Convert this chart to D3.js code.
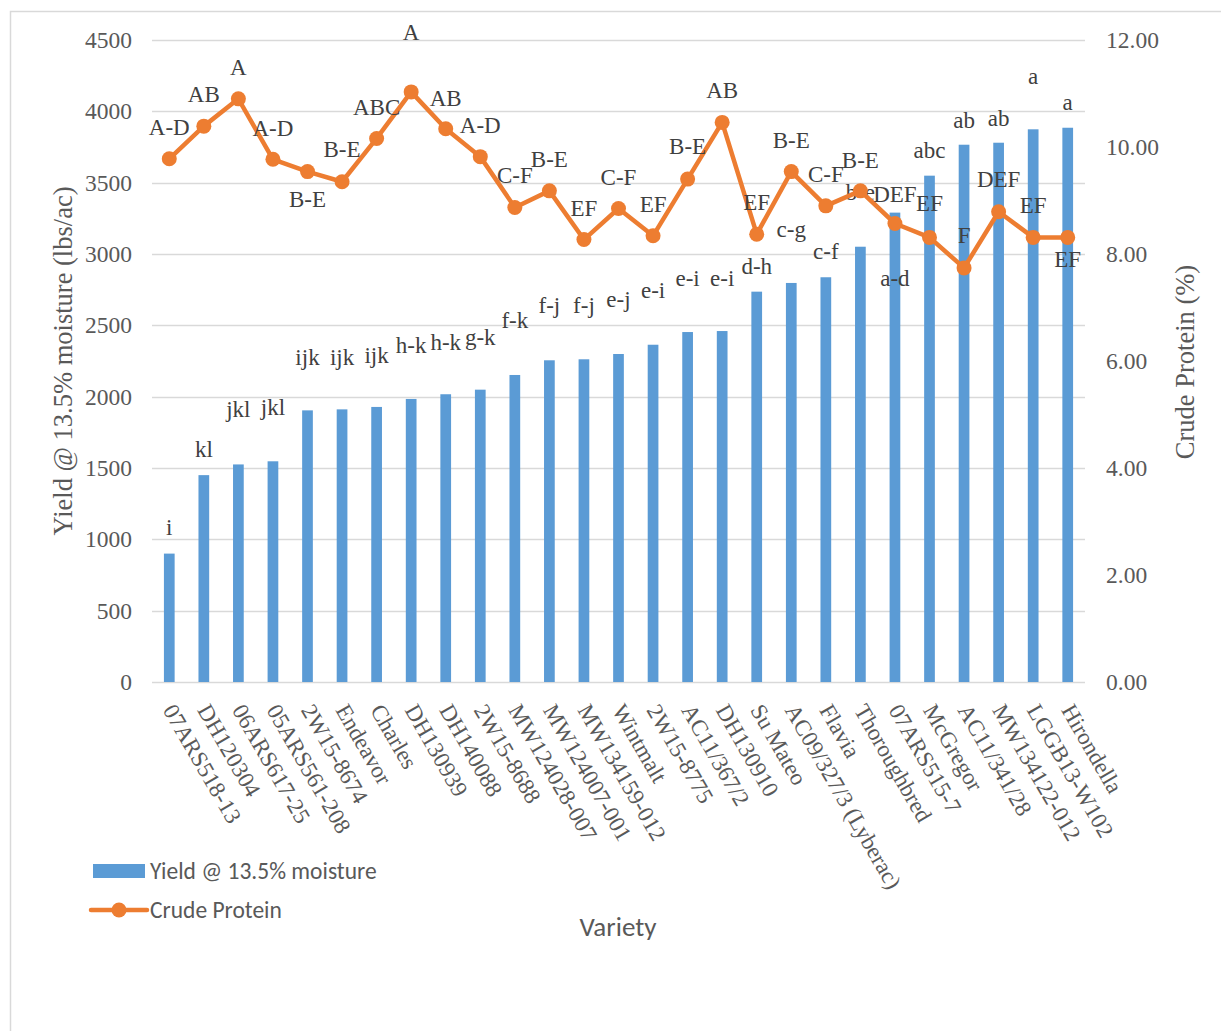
<!DOCTYPE html>
<html>
<head>
<meta charset="utf-8">
<script src="https://cdn.jsdelivr.net/npm/d3@7"></script>
<style>
  body { margin: 0; background: #fff; }
  svg { display: block; }
  .serif, .serif text { font-family: "Liberation Serif", "Times New Roman", serif; }
  .sans, .sans text { font-family: Carlito, Calibri, Lato, "Liberation Sans", sans-serif; }
</style>
</head>
<body>
<div id="chart"></div>
<script>
// varieties, sorted by yield
var categories = ["07ARS518-13", "DH120304", "06ARS617-25", "05ARS561-208", "2W15-8674", "Endeavor",
  "Charles", "DH130939", "DH140088", "2W15-8688", "MW124028-007", "MW124007-001", "MW134159-012",
  "Wintmalt", "2W15-8775", "AC11/367/2", "DH130910", "Su Mateo", "AC09/327/3 (Lyberac)", "Flavia",
  "Thoroughbred", "07ARS515-7", "McGregor", "AC11/341/28", "MW134122-012", "LGGB13-W102", "Hirondella"];

// Yield @ 13.5% moisture (lbs/ac)
var yieldValues = [900, 1450, 1525, 1547, 1904, 1911, 1928, 1984, 2017, 2049, 2152, 2255, 2262, 2299,
  2364, 2453, 2460, 2736, 2797, 2837, 3051, 3290, 3549, 3766, 3780, 3874, 3885];

// Crude protein (%)
var proteinValues = [9.78, 10.39, 10.90, 9.77, 9.54, 9.35, 10.16, 11.03, 10.34, 9.82, 8.87, 9.18, 8.27,
  8.85, 8.34, 9.40, 10.46, 8.37, 9.54, 8.90, 9.18, 8.57, 8.31, 7.74, 8.79, 8.31, 8.31];

// mean separation letters
var yieldLetters = ["i", "kl", "jkl", "jkl", "ijk", "ijk", "ijk", "h-k", "h-k", "g-k", "f-k", "f-j", "f-j",
  "e-j", "e-i", "e-i", "e-i", "d-h", "c-g", "c-f", "b-e", "a-d", "abc", "ab", "ab", "a", "a"];
var proteinLetters = ["A-D", "AB", "A", "A-D", "B-E", "B-E", "ABC", "A", "AB", "A-D", "C-F", "B-E", "EF",
  "C-F", "EF", "B-E", "AB", "EF", "B-E", "C-F", "B-E", "DEF", "EF", "F", "DEF", "EF", "EF"];

var yieldTicks = [0, 500, 1000, 1500, 2000, 2500, 3000, 3500, 4000, 4500];
var proteinTicks = [0, 2, 4, 6, 8, 10, 12];

// label placement (px), the way they were dragged around in the original
var yieldLabelLift = [19, 18, 47, 46, 45, 44, 44, 46, 44, 45, 47, 47, 46, 47, 47, 46, 45, 18, 46, 18, 47, -73, 18, 17, 17, 45, 18];
var proteinLabelDy = [-24, -24, -24, -23, 35, -25, -23, -52, -23, -24, -24, -24, -24, -24, -24, -25, -24, -24, -24, -24, -23, -22, -26, -25, -25, -24, 30];

var W = 1221, H = 1031,
    plotLeft = 152, plotRight = 1085, plotTop = 40, plotBottom = 682,
    barColor = "#5B9BD5", lineColor = "#ED7D31",
    gridColor = "#D9D9D9", tickColor = "#595959", labelColor = "#404040",
    serifFont = '"Liberation Serif", "Times New Roman", serif';

var svg = d3.select("#chart").append("svg").attr("width", W).attr("height", H);

svg.append("rect").attr("width", W).attr("height", H).attr("fill", "#fff");
// chart frame (runs off the page at right and bottom)
svg.append("rect").attr("x", 10.5).attr("y", 11.5).attr("width", 1300).attr("height", 1100)
  .attr("fill", "none").attr("stroke", gridColor).attr("stroke-width", 1.5);

var x = d3.scaleBand().domain(categories).range([plotLeft, plotRight]).paddingInner(0.69).paddingOuter(0.345);
var yL = d3.scaleLinear().domain([0, 4500]).range([plotBottom, plotTop]);
var yR = d3.scaleLinear().domain([0, 12]).range([plotBottom, plotTop]);
var cx = function(d) { return x(d) + x.bandwidth() / 2; };

// gridlines
svg.append("g").selectAll("line").data(yieldTicks).enter().append("line")
  .attr("x1", plotLeft).attr("x2", plotRight)
  .attr("y1", function(d) { return Math.round(yL(d)) + 0.5; })
  .attr("y2", function(d) { return Math.round(yL(d)) + 0.5; })
  .attr("stroke", gridColor).attr("stroke-width", 1.5);

// left axis
var gL = svg.append("g").attr("transform", "translate(" + (plotLeft - 20) + ",0)")
  .call(d3.axisLeft(yL).tickValues(yieldTicks).tickSize(0).tickPadding(0).tickFormat(d3.format("d")))
  .attr("font-family", serifFont).attr("font-size", 23.5);
gL.select(".domain").remove();
gL.selectAll(".tick text").attr("fill", tickColor);

// right axis
var gR = svg.append("g").attr("transform", "translate(" + (plotRight + 21) + ",0)")
  .call(d3.axisRight(yR).tickValues(proteinTicks).tickSize(0).tickPadding(0).tickFormat(d3.format(".2f")))
  .attr("font-family", serifFont).attr("font-size", 23.5);
gR.select(".domain").remove();
gR.selectAll(".tick text").attr("fill", tickColor);

// bars
svg.append("g").selectAll("rect").data(categories).enter().append("rect")
  .attr("x", function(d) { return x(d); })
  .attr("width", x.bandwidth())
  .attr("y", function(d, i) { return yL(yieldValues[i]); })
  .attr("height", function(d, i) { return yL(0) - yL(yieldValues[i]); })
  .attr("fill", barColor);

// yield letters
svg.append("g").attr("class", "serif").selectAll("text").data(categories).enter().append("text")
  .attr("x", cx)
  .attr("y", function(d, i) { return yL(yieldValues[i]) - yieldLabelLift[i]; })
  .attr("text-anchor", "middle").attr("fill", labelColor).style("font-size", "23px")
  .text(function(d, i) { return yieldLetters[i]; });

// protein line
var line = d3.line()
  .x(function(d) { return cx(d); })
  .y(function(d, i) { return yR(proteinValues[i]); });
svg.append("path").datum(categories).attr("d", line)
  .attr("fill", "none").attr("stroke", lineColor).attr("stroke-width", 4.5)
  .attr("stroke-linejoin", "round").attr("stroke-linecap", "round");
svg.append("g").selectAll("circle").data(categories).enter().append("circle")
  .attr("cx", cx).attr("cy", function(d, i) { return yR(proteinValues[i]); })
  .attr("r", 7.5).attr("fill", lineColor);

// protein letters
svg.append("g").attr("class", "serif").selectAll("text").data(categories).enter().append("text")
  .attr("x", cx)
  .attr("y", function(d, i) { return yR(proteinValues[i]) + proteinLabelDy[i]; })
  .attr("text-anchor", "middle").attr("fill", labelColor).style("font-size", "23px")
  .text(function(d, i) { return proteinLetters[i]; });

// category labels, rotated
svg.append("g").attr("class", "serif").selectAll("text").data(categories).enter().append("text")
  .attr("transform", function(d) { return "translate(" + cx(d) + ",706) rotate(60)"; })
  .attr("dy", "0.35em").attr("fill", tickColor).style("font-size", "23px")
  .text(function(d) { return d; });

// axis titles
svg.append("text").attr("class", "serif")
  .attr("transform", "translate(72,361) rotate(-90)")
  .attr("text-anchor", "middle").attr("fill", tickColor).style("font-size", "26.5px")
  .text("Yield @ 13.5% moisture (lbs/ac)");
svg.append("text").attr("class", "serif")
  .attr("transform", "translate(1194,362) rotate(-90)")
  .attr("text-anchor", "middle").attr("fill", tickColor).style("font-size", "26.5px")
  .text("Crude Protein (%)");
svg.append("text").attr("class", "sans")
  .attr("x", 618).attr("y", 936)
  .attr("text-anchor", "middle").attr("fill", tickColor).style("font-size", "27px")
  .text("Variety");

// legend
var lg = svg.append("g").attr("class", "sans");
lg.append("rect").attr("x", 93).attr("y", 864).attr("width", 52).attr("height", 14).attr("fill", barColor);
lg.append("text").attr("x", 150).attr("y", 871).attr("dy", "0.35em").attr("fill", tickColor)
  .style("font-size", "23.5px").text("Yield @ 13.5% moisture");
lg.append("line").attr("x1", 91).attr("x2", 147).attr("y1", 910).attr("y2", 910)
  .attr("stroke", lineColor).attr("stroke-width", 4.5).attr("stroke-linecap", "round");
lg.append("circle").attr("cx", 119).attr("cy", 910).attr("r", 7.5).attr("fill", lineColor);
lg.append("text").attr("x", 150).attr("y", 910).attr("dy", "0.35em").attr("fill", tickColor)
  .style("font-size", "23.5px").text("Crude Protein");
</script>
</body>
</html>
